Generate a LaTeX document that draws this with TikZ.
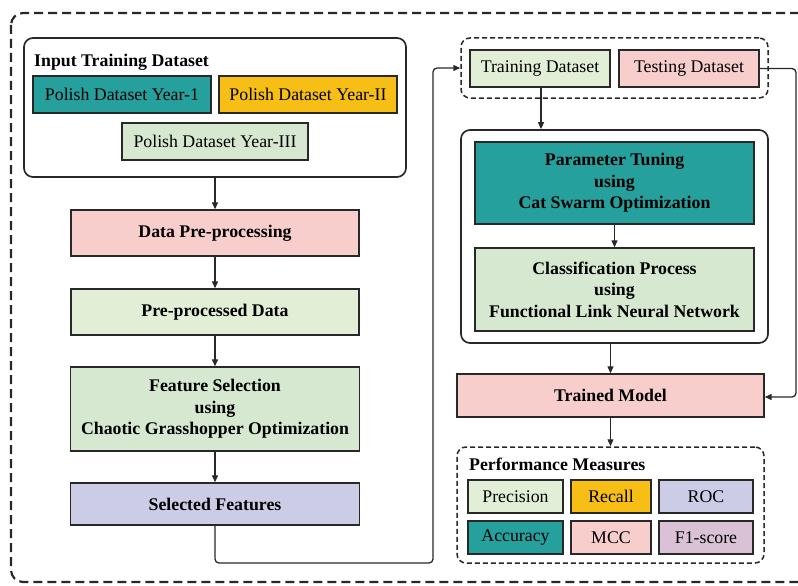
\documentclass[tikz,border=0pt]{standalone}
\usepackage{fontspec}
\setmainfont{Liberation Serif}
\usetikzlibrary{arrows.meta}
\definecolor{cteal}{RGB}{38,160,156}
\definecolor{camber}{RGB}{247,190,22}
\definecolor{cgreen}{RGB}{214,232,208}
\definecolor{cgreenl}{RGB}{226,239,214}
\definecolor{cpink}{RGB}{248,206,205}
\definecolor{clav}{RGB}{205,204,230}
\definecolor{cmauve}{RGB}{217,194,213}
\definecolor{cline}{RGB}{40,40,40}
\tikzset{
  box/.style={draw=cline, line width=1.4pt, inner sep=0pt, align=center, font=\fontsize{17.8}{21.5}\selectfont},
  bbox/.style={box, font=\fontsize{17.8}{21.5}\selectfont\bfseries},
  grp/.style={draw=cline, line width=1.7pt, rounded corners=9pt, inner sep=0pt},
  dgrp/.style={draw=cline, line width=1.5pt, dash pattern=on 5pt off 3pt, rounded corners=9pt, inner sep=0pt},
  arr/.style={draw=cline, line width=1.3pt, -{Triangle[length=7pt,width=6pt]}},
  conn/.style={arr, rounded corners=4pt},
  ttl/.style={anchor=west, inner sep=0pt, font=\fontsize{17.8}{20}\selectfont\bfseries},
}
\begin{document}
\begin{tikzpicture}[x=1pt,y=-1pt]
\useasboundingbox (0,0) rectangle (798,586);
\begin{scope}
\clip (0,0) rectangle (798,586);
\draw[draw=cline, line width=2.2pt, dash pattern=on 9pt off 5pt, rounded corners=12pt] (11,13) rectangle (830,582);
\end{scope}
% input group
\node[grp, minimum width=382pt, minimum height=139pt] (input) at (215,107.5) {};
\node[ttl] (inputt) at (34,62) {Input Training Dataset};
\node[box, fill=cteal, minimum width=178pt, minimum height=37pt] (y1) at (122,94.5) {Polish Dataset Year-1};
\node[box, fill=camber, minimum width=178pt, minimum height=37pt] (y2) at (308,94.5) {Polish Dataset Year-II};
\node[box, fill=cgreen, minimum width=186pt, minimum height=37pt] (y3) at (215,141.5) {Polish Dataset Year-III};
% left column
\node[bbox, fill=cpink, minimum width=288pt, minimum height=46pt] (dp) at (215,233) {Data Pre-processing};
\node[bbox, fill=cgreenl, minimum width=288pt, minimum height=46pt] (pd) at (215,312) {Pre-processed Data};
\node[bbox, fill=cgreen, minimum width=289pt, minimum height=84pt] (fs) at (215,409) {Feature Selection\\using\\Chaotic Grasshopper Optimization};
\node[bbox, fill=clav, minimum width=289pt, minimum height=42pt] (sf) at (215,504) {Selected Features};
% right column
\node[dgrp, minimum width=307pt, minimum height=60pt] (split) at (614.5,68) {};
\node[box, fill=cgreenl, minimum width=140pt, minimum height=37pt] (train) at (540,68.5) {Training Dataset};
\node[box, fill=cpink, minimum width=140pt, minimum height=37pt] (test) at (689,68.5) {Testing Dataset};
\node[grp, minimum width=307pt, minimum height=213pt] (model) at (614.5,236.5) {};
\node[bbox, fill=cteal, minimum width=279pt, minimum height=82pt] (pt) at (614.5,183) {Parameter Tuning\\using\\Cat Swarm Optimization};
\node[bbox, fill=cgreen, minimum width=279pt, minimum height=83pt] (cp) at (614.5,289.5) {Classification Process\\using\\Functional Link Neural Network};
\node[bbox, fill=cpink, minimum width=307pt, minimum height=43pt] (tm) at (610.5,395.5) {Trained Model};
\node[dgrp, minimum width=307pt, minimum height=116pt] (pm) at (610.5,505) {};
\node[ttl] (pmt) at (469,464) {Performance Measures};
\node[box, fill=cgreenl, minimum width=95pt, minimum height=33pt] (prec) at (515.5,496.5) {Precision};
\node[box, fill=camber, minimum width=80pt, minimum height=33pt] (rec) at (611,496.5) {Recall};
\node[box, fill=clav, minimum width=94pt, minimum height=33pt] (roc) at (706,496.5) {ROC};
\node[box, fill=cteal, minimum width=95pt, minimum height=33pt] (acc) at (515.5,537.5) {Accuracy};
\node[box, fill=cpink, minimum width=80pt, minimum height=33pt] (mcc) at (611,537.5) {MCC};
\node[box, fill=cmauve, minimum width=94pt, minimum height=33pt] (f1) at (706,537.5) {F1-score};
% connectors
\draw[arr] (input.south) -- (dp.north);
\draw[arr] (dp) -- (pd);
\draw[arr] (pd) -- (fs);
\draw[arr] (fs) -- (sf);
\draw[conn] (sf.south) -- (215,563) -- (433,563) -- (433,68) -- (split.west);
\draw[arr] (train.south -| 541,0) -- (model.north -| 541,0);
\draw[arr] (pt.south) -- (cp.north);
\draw[arr] (model.south -| tm.north) -- (tm.north);
\draw[arr] (tm.south) -- (pm.north);
\draw[conn] (test.east) -- (796,68.5) -- (796,397) -- (tm.east |- 0,397);
\end{tikzpicture}
\end{document}
